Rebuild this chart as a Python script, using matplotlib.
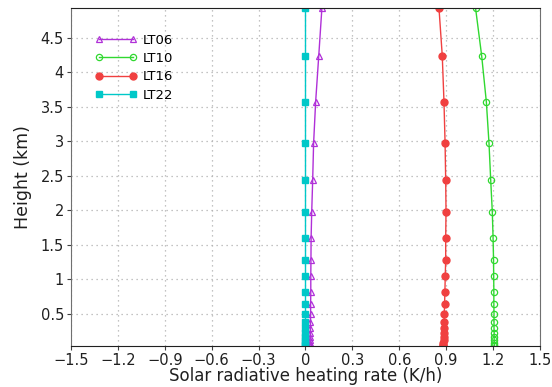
import numpy as np
import matplotlib
matplotlib.use('Agg')
import matplotlib.pyplot as plt

# model levels (km)
height = [0.03, 0.05, 0.08, 0.12, 0.166, 0.22, 0.29, 0.384, 0.50, 0.645,
          0.82, 1.04, 1.28, 1.60, 1.98, 2.43, 2.97, 3.57, 4.24, 4.93]

lt06 = [0.029, 0.029, 0.030, 0.030, 0.031, 0.031, 0.032, 0.032, 0.033, 0.033,
        0.034, 0.034, 0.035, 0.036, 0.040, 0.046, 0.052, 0.065, 0.085, 0.105]
lt10 = [1.208, 1.208, 1.208, 1.207, 1.207, 1.207, 1.206, 1.206, 1.206, 1.205,
        1.205, 1.204, 1.203, 1.200, 1.195, 1.185, 1.174, 1.157, 1.127, 1.088]
lt16 = [0.880, 0.881, 0.882, 0.883, 0.884, 0.885, 0.886, 0.887, 0.888, 0.890,
        0.892, 0.894, 0.897, 0.897, 0.899, 0.897, 0.893, 0.886, 0.875, 0.854]
lt22 = [0.0] * len(height)

labels = ['LT06', 'LT10', 'LT16', 'LT22']

fig = plt.figure(figsize=(5.52, 3.87), dpi=100)
ax = fig.add_axes([0.1286, 0.106, 0.8496, 0.873])

ax.plot(lt06, height, color='#b030d8', lw=1.0, marker='^', ms=4, mfc='none',
        mec='#b030d8', mew=0.9, label=labels[0])
ax.plot(lt10, height, color='#30d830', lw=1.0, marker='o', ms=4.5, mfc='none',
        mec='#30d830', mew=0.9, label=labels[1])
ax.plot(lt16, height, color='#f04040', lw=1.0, marker='o', ms=5, mfc='#f04040',
        mec='#f04040', label=labels[2])
ax.plot(lt22, height, color='#00c8c8', lw=1.0, marker='s', ms=5, mfc='#00c8c8',
        mec='#00c8c8', label=labels[3])

ax.set_xlim(-1.5, 1.5)
ax.set_ylim(height[0], height[-1])
xt = np.arange(-1.5, 1.51, 0.3)
ax.set_xticks(xt)
ax.set_xticklabels(['\u22121.5', '\u22121.2', '\u22120.9', '\u22120.6', '\u22120.3',
                    '0', '0.3', '0.6', '0.9', '1.2', '1.5'])
ax.set_yticks(np.arange(0.5, 4.51, 0.5))
ax.set_yticklabels(['0.5', '1', '1.5', '2', '2.5', '3', '3.5', '4', '4.5'])
ax.tick_params(labelsize=10.5, length=3, width=0.8, pad=2, color='#404040',
               labelcolor='#202020')

ax.grid(True, color='#b0b0b0', ls=(0, (1, 3)), lw=0.9)
ax.set_axisbelow(True)

for s in ['left', 'right']:
    ax.spines[s].set_linestyle((0, (2, 1)))
    ax.spines[s].set_color('#707070')
for s in ['top', 'bottom']:
    ax.spines[s].set_color('#202020')

ax.set_xlabel('Solar radiative heating rate (K/h)', fontsize=12, color='#202020', labelpad=-1)
ax.set_ylabel('Height (km)', fontsize=12.5, color='#202020', labelpad=6)

ax.legend(loc='upper left', bbox_to_anchor=(0.04, 0.94), frameon=False, numpoints=2,
          handlelength=3.2, handletextpad=0.4, labelspacing=0.4, fontsize=9.5,
          borderaxespad=0)

fig.savefig('out.png', dpi=100)
